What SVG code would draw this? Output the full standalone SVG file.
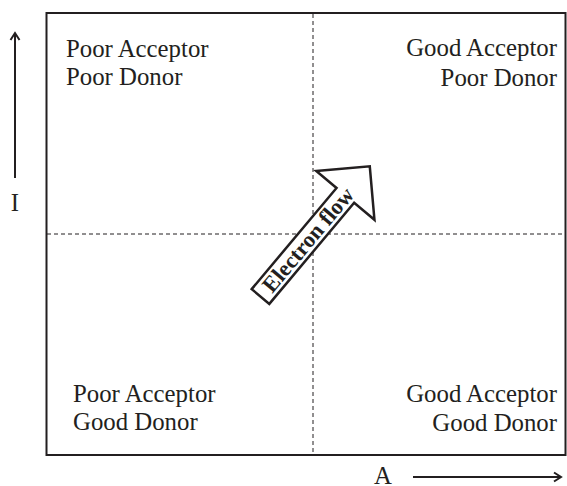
<svg xmlns="http://www.w3.org/2000/svg" width="567" height="486" viewBox="0 0 567 486">
<defs>
<style>
.lbl{font-family:"Liberation Serif","Times New Roman",serif;font-size:24.8px;fill:#231f20}
.r{text-anchor:end}
.dash{stroke:#231f20;stroke-width:1;stroke-dasharray:4 3;fill:none}
.axis{stroke:#231f20;stroke-width:2;fill:none}
</style>
<marker id="ah" viewBox="0 0 12 12" refX="10" refY="6" markerWidth="12" markerHeight="12" markerUnits="userSpaceOnUse" orient="auto">
<path d="M3,1.5 L10,6 L3,10.5" fill="none" stroke="#231f20" stroke-width="2"/>
</marker>
</defs>
<rect width="567" height="486" fill="#fff"/>
<g id="frame">
<rect x="46.5" y="13" width="519" height="442" fill="none" stroke="#231f20" stroke-width="2"/>
</g>
<g id="connectors">
<line class="dash" x1="313" y1="14" x2="313" y2="454"/>
<line class="dash" x1="47" y1="234" x2="565" y2="234"/>
<line class="axis" x1="15" y1="178" x2="15" y2="33" marker-end="url(#ah)"/>
<line class="axis" x1="413" y1="477" x2="561" y2="477" marker-end="url(#ah)"/>
</g>
<g id="axis-labels">
<text class="lbl" x="15" y="211" text-anchor="middle">I</text>
<text class="lbl" x="383" y="484" text-anchor="middle">A</text>
</g>
<g id="q-top-left">
<text class="lbl" x="66" y="57">Poor Acceptor</text>
<text class="lbl" x="66" y="85">Poor Donor</text>
</g>
<g id="q-top-right">
<text class="lbl r" x="557" y="56">Good Acceptor</text>
<text class="lbl r" x="557" y="86">Poor Donor</text>
</g>
<g id="q-bottom-left">
<text class="lbl" x="73" y="402">Poor Acceptor</text>
<text class="lbl" x="73" y="430">Good Donor</text>
</g>
<g id="q-bottom-right">
<text class="lbl r" x="557" y="402">Good Acceptor</text>
<text class="lbl r" x="557" y="431">Good Donor</text>
</g>
<g id="electron-flow" transform="translate(260.5,296.5) rotate(-50)">
<polygon points="0,-11.5 132,-11.5 132,-38 170,0 132,38 132,11.5 0,11.5" fill="#fff" stroke="#231f20" stroke-width="2.5" stroke-linejoin="miter"/>
<text x="74" y="7.5" text-anchor="middle" font-family="'Liberation Serif','Times New Roman',serif" font-weight="bold" font-size="22.5" fill="#231f20">Electron flow</text>
</g>
</svg>
